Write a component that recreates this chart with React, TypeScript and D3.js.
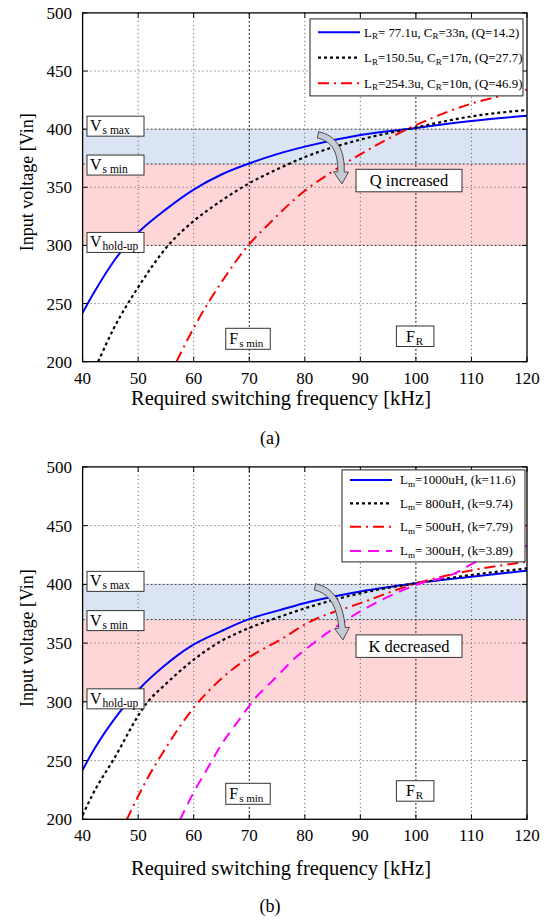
import React from 'react';
import * as d3 from 'd3';

const xTicks = [40, 50, 60, 70, 80, 90, 100, 110, 120];
const yTicks = [200, 250, 300, 350, 400, 450, 500];
const gridLight = [250, 350, 450];
const bandEdges = [300, 370, 400];

// Panel (a)
const blueAF = [40, 42, 46, 50, 55, 60, 65, 70, 75, 80, 90, 100, 110, 120];
const blueAV = [242, 259, 289, 311, 331, 348, 361, 370.5, 378.5, 385, 395, 401, 407, 411.5];
const blackAF = [42.8, 45.5, 50, 55.4, 60, 65, 70, 75.5, 80, 90, 100, 110, 120];
const blackAV = [200, 227.6, 264, 300, 321, 338.5, 353.5, 366.5, 376, 391, 401.5, 411, 416.5];
const redAF = [56.9, 60, 62.6, 65.3, 69.8, 73.7, 79.2, 85, 93, 100, 110, 116, 120];
const redAV = [200, 229, 250.5, 270.5, 300, 319.3, 344, 363.6, 386.5, 403.5, 422, 429.5, 434];

// Panel (b)
const blueBF = [40, 42, 46.7, 50.3, 54.5, 59.3, 64.7, 69.8, 75.5, 80.9, 90, 100, 110, 120];
const blueBV = [242, 259, 291.5, 311.4, 329.8, 346.8, 359.6, 370.2, 378.1, 385.2, 394, 401, 406.5, 411.6];
const blackBF = [40, 41.9, 45.5, 51.5, 55.1, 59.9, 64.7, 69.8, 75.5, 80.9, 89.9, 100, 110, 120];
const blackBV = [203.5, 222, 250.3, 298.6, 315.7, 335.5, 351.1, 362.5, 372.4, 380.9, 392.3, 401, 408, 413.6];
const redBF = [47.9, 51.5, 55.1, 59.9, 64.7, 70.1, 75.5, 80.9, 89.9, 100, 110.3, 120];
const redBV = [199.2, 233.3, 261.7, 294.4, 318.5, 338.3, 352.6, 368.1, 383.8, 400.8, 412.2, 419.2];
const magBF = [57.5, 60.2, 62.3, 65.3, 67.7, 71.3, 74, 78.5, 81.5, 89.9, 100, 107, 110.3, 120];
const magBV = [199.2, 224.8, 241.8, 265.9, 281.6, 304.3, 317, 338.3, 349.7, 376.7, 399.5, 409.4, 417.9, 433];

const legendA = [
  { main: 'L', sub: 'R', rest: '= 77.1u, C', sub2: 'R', rest2: '=33n, (Q=14.2)' },
  { main: 'L', sub: 'R', rest: '=150.5u, C', sub2: 'R', rest2: '=17n, (Q=27.7)' },
  { main: 'L', sub: 'R', rest: '=254.3u, C', sub2: 'R', rest2: '=10n, (Q=46.9)' },
];
const legendB = [
  { main: 'L', sub: 'm', rest: '=1000uH,  (k=11.6)' },
  { main: 'L', sub: 'm', rest: '= 800uH,  (k=9.74)' },
  { main: 'L', sub: 'm', rest: '= 500uH,  (k=7.79)' },
  { main: 'L', sub: 'm', rest: '= 300uH,  (k=3.89)' },
];

const FONT = '"Liberation Serif","Times New Roman",serif';
const X0 = 82.6, X1 = 527;

type Series = { f: number[]; v: number[]; color: string; dash?: string; width: number };

const styleBlue = { color: '#0000ff', dash: undefined, width: 2 };
const styleBlack = { color: '#000000', dash: '3,3', width: 2.2 };
const styleRed = { color: '#ff0000', dash: '11,5,2,5', width: 2 };
const styleMag = { color: '#ff00ff', dash: '11,7', width: 2 };

function Box({ x, y, w, h, children }: any) {
  return (
    <g>
      <rect x={x} y={y} width={w} height={h} fill="#fff" stroke="#333" strokeWidth={1} />
      {children}
    </g>
  );
}

function SubLabel({ x, y, main, sub, size = 16, subSize = 11.5 }: any) {
  return (
    <text x={x} y={y} fontFamily={FONT} fontSize={size} fill="#000">
      {main}
      <tspan fontSize={subSize} dy={3} dx={1}>{sub}</tspan>
    </text>
  );
}

function Arrow({ sx, sy, tx, ty }: any) {
  const p0 = [sx, sy];
  const p1 = [sx + 24, sy + 5];
  const p2 = [tx - 1, ty - 12];
  const pts: number[][] = [];
  const nrm: number[][] = [];
  const N = 16;
  for (let i = 0; i <= N; i++) {
    const t = i / N;
    const x = (1 - t) * (1 - t) * p0[0] + 2 * (1 - t) * t * p1[0] + t * t * p2[0];
    const y = (1 - t) * (1 - t) * p0[1] + 2 * (1 - t) * t * p1[1] + t * t * p2[1];
    const dx = 2 * (1 - t) * (p1[0] - p0[0]) + 2 * t * (p2[0] - p1[0]);
    const dy = 2 * (1 - t) * (p1[1] - p0[1]) + 2 * t * (p2[1] - p1[1]);
    const L = Math.hypot(dx, dy);
    pts.push([x, y]);
    nrm.push([-dy / L, dx / L]);
  }
  const w = 3.2;
  const left = pts.map((p, i) => [p[0] + nrm[i][0] * w, p[1] + nrm[i][1] * w]);
  const right = pts.map((p, i) => [p[0] - nrm[i][0] * w, p[1] - nrm[i][1] * w]);
  const n = nrm[N];
  const hw = 7.5;
  const hl = [p2[0] + n[0] * hw, p2[1] + n[1] * hw];
  const hr = [p2[0] - n[0] * hw, p2[1] - n[1] * hw];
  let d = `M${left[0][0]},${left[0][1]}`;
  left.forEach((p) => (d += `L${p[0]},${p[1]}`));
  d += `L${hl[0]},${hl[1]}L${tx},${ty}L${hr[0]},${hr[1]}`;
  for (let i = right.length - 1; i >= 0; i--) d += `L${right[i][0]},${right[i][1]}`;
  d += 'Z';
  return <path d={d} fill="#c6cbd8" stroke="#3a3a3a" strokeWidth={0.9} />;
}

function Panel({ id, top, bottom, series, legend, legendBox, legendRows, legendSample, note, noteBox, arrow, fsBox, frBox, caption, titleY, captionY }: any) {
  const x = d3.scaleLinear().domain([40, 120]).range([X0, X1]);
  const y = d3.scaleLinear().domain([200, 500]).range([bottom, top]);
  const line = d3
    .line<[number, number]>()
    .x((d) => x(d[0]))
    .y((d) => y(d[1]))
    .curve(d3.curveMonotoneX);
  const clipId = `clip-${id}`;
  return (
    <g>
      <defs>
        <clipPath id={clipId}>
          <rect x={X0} y={top} width={X1 - X0} height={bottom - top} />
        </clipPath>
      </defs>
      {/* bands */}
      <rect x={X0} y={y(400)} width={X1 - X0} height={y(370) - y(400)} fill="#dae4f2" />
      <rect x={X0} y={y(370)} width={X1 - X0} height={y(300) - y(370)} fill="#ffd6d8" />
      {/* grid */}
      {xTicks.slice(1, -1).map((t) => (
        <line key={'vx' + t} x1={x(t)} x2={x(t)} y1={top} y2={bottom}
          stroke={t === 70 || t === 100 ? '#222' : '#555'} strokeWidth={1}
          strokeDasharray={t === 70 || t === 100 ? '2,2' : '1,3'} />
      ))}
      {gridLight.map((t) => (
        <line key={'gy' + t} x1={X0} x2={X1} y1={y(t)} y2={y(t)} stroke="#555" strokeWidth={1} strokeDasharray="1,3" />
      ))}
      {bandEdges.map((t) => (
        <line key={'be' + t} x1={X0} x2={X1} y1={y(t)} y2={y(t)} stroke="#333" strokeWidth={1} strokeDasharray="2,2" />
      ))}
      {/* curves */}
      <g clipPath={`url(#${clipId})`}>
        {series.map((s: Series, i: number) => (
          <path key={i} d={line(s.f.map((f, j) => [f, s.v[j]] as [number, number])) || ''}
            fill="none" stroke={s.color} strokeWidth={s.width} strokeDasharray={s.dash} />
        ))}
      </g>
      {/* frame */}
      <rect x={X0} y={top} width={X1 - X0} height={bottom - top} fill="none" stroke="#000" strokeWidth={1.3} />
      {xTicks.map((t) => (
        <g key={'xt' + t}>
          <line x1={x(t)} x2={x(t)} y1={bottom} y2={bottom - 5} stroke="#000" />
          <line x1={x(t)} x2={x(t)} y1={top} y2={top + 5} stroke="#000" />
          <text x={x(t)} y={bottom + 22} textAnchor="middle" fontFamily={FONT} fontSize={17}>{t}</text>
        </g>
      ))}
      {yTicks.map((t) => (
        <g key={'yt' + t}>
          <line x1={X0} x2={X0 + 5} y1={y(t)} y2={y(t)} stroke="#000" />
          <line x1={X1} x2={X1 - 5} y1={y(t)} y2={y(t)} stroke="#000" />
          <text x={72} y={y(t) + 6} textAnchor="end" fontFamily={FONT} fontSize={17}>{t}</text>
        </g>
      ))}
      {/* axis titles */}
      <text transform={`translate(27,${(top + bottom) / 2 - 5}) rotate(-90)`} textAnchor="middle" dominantBaseline="central" fontFamily={FONT} fontSize={18}>
        Input voltage [Vin]
      </text>
      <text x={281} y={titleY} textAnchor="middle" fontFamily={FONT} fontSize={20.5}>
        Required switching frequency [kHz]
      </text>
      <text x={270} y={captionY} textAnchor="middle" fontFamily={FONT} fontSize={18}>{caption}</text>
      {/* V boxes */}
      <Box x={87} y={y(400) - 13} w={57} h={20}>
        <SubLabel x={90} y={y(400) + 2} main="V" sub="s max" />
      </Box>
      <Box x={87} y={y(370) - 9} w={57} h={20}>
        <SubLabel x={90} y={y(370) + 6} main="V" sub="s min" />
      </Box>
      <Box x={87} y={y(300) - 13} w={57} h={20}>
        <SubLabel x={90} y={y(300) + 2} main="V" sub="hold-up" />
      </Box>
      {/* F boxes */}
      <Box x={x(70) - 23.5} y={bottom - fsBox} w={44.5} h={21}>
        <SubLabel x={x(70) - 20} y={bottom - fsBox + 16} main="F" sub="s min" subSize={11} />
      </Box>
      <Box x={x(100) - 19.5} y={bottom - frBox} w={37.5} h={20.5}>
        <SubLabel x={x(100) - 10} y={bottom - frBox + 15.5} main="F" sub="R" subSize={11} />
      </Box>
      {/* arrow + note */}
      <Arrow sx={arrow[0]} sy={top + arrow[1]} tx={arrow[2]} ty={top + arrow[3]} />
      <Box x={noteBox[0]} y={top + noteBox[1]} w={106} h={22.5}>
        <text x={noteBox[0] + 53} y={top + noteBox[1] + 17} textAnchor="middle" fontFamily={FONT} fontSize={16.5}>{note}</text>
      </Box>
      {/* legend */}
      <rect x={legendBox[0]} y={top + legendBox[1]} width={legendBox[2]} height={legendBox[3]} fill="#fff" stroke="#222" strokeWidth={1} />
      {legend.map((l: any, i: number) => {
        const s: Series = series[i];
        const ly = top + legendRows[i];
        return (
          <g key={'lg' + i}>
            <line x1={legendSample[0]} x2={legendSample[1]} y1={ly} y2={ly} stroke={s.color} strokeWidth={s.width} strokeDasharray={s.dash} />
            <text x={legendSample[2]} y={ly + 4.5} fontFamily={FONT} fontSize={legendSample[3]}>
              {l.main}
              <tspan fontSize={legendSample[3] * 0.7} dy={2.5}>{l.sub}</tspan>
              <tspan dy={-2.5}>{l.rest}</tspan>
              {l.sub2 ? <tspan fontSize={legendSample[3] * 0.7} dy={2.5}>{l.sub2}</tspan> : null}
              {l.rest2 ? <tspan dy={-2.5}>{l.rest2}</tspan> : null}
            </text>
          </g>
        );
      })}
    </g>
  );
}

export default function App() {
  const seriesA: Series[] = [
    { f: blueAF, v: blueAV, ...styleBlue },
    { f: blackAF, v: blackAV, ...styleBlack },
    { f: redAF, v: redAV, ...styleRed },
  ];
  const seriesB: Series[] = [
    { f: blueBF, v: blueBV, ...styleBlue },
    { f: blackBF, v: blackBV, ...styleBlack },
    { f: redBF, v: redBV, ...styleRed },
    { f: magBF, v: magBV, ...styleMag },
  ];
  return (
    <svg width={552} height={920} style={{ position: 'absolute', left: 0, top: 0, background: '#fff' }}>
      <rect x={0} y={0} width={552} height={920} fill="#fff" />
      <Panel id="a" top={12.9} bottom={361.7} series={seriesA} legend={legendA}
        legendBox={[310, 6, 213, 77]} legendRows={[19.4, 44.8, 70.4]} legendSample={[318, 360, 364, 12.9]}
        note="Q increased" noteBox={[356, 156.4]} arrow={[318, 122, 342, 171]}
        fsBox={33.4} frBox={35.7} caption="(a)" titleY={405} captionY={444} />
      <Panel id="b" top={466.9} bottom={819.3} series={seriesB} legend={legendB}
        legendBox={[342, 3, 183, 92]} legendRows={[13, 36.4, 59.8, 84]} legendSample={[350, 392, 400, 13]}
        note="K decreased" noteBox={[356, 168]} arrow={[315, 120, 343, 173]}
        fsBox={36} frBox={38.6} caption="(b)" titleY={875} captionY={912} />
    </svg>
  );
}
